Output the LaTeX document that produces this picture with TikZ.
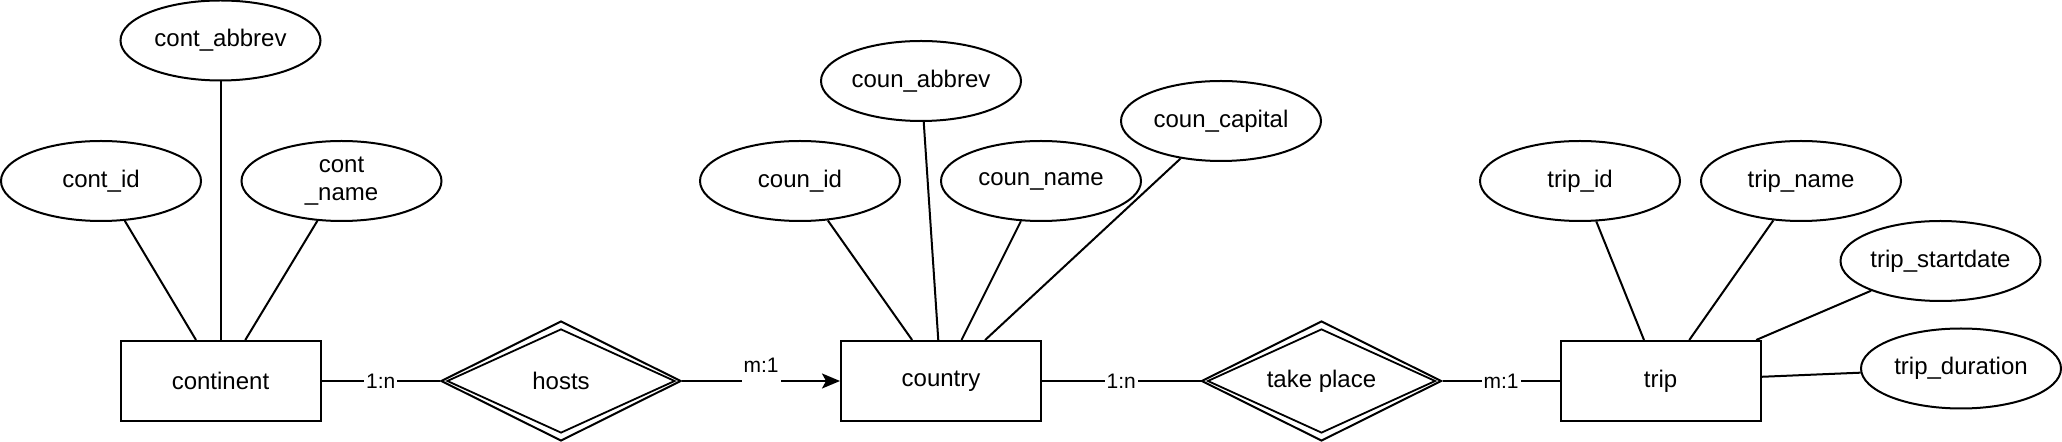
\documentclass[tikz,border=0pt]{standalone}
\usepackage{fontspec}
\setmainfont{Liberation Sans}
\usetikzlibrary{shapes.geometric,arrows.meta}
\begin{document}
\begin{tikzpicture}[x=0.5pt,y=-0.5pt,
  every node/.style={font=\fontsize{12}{14}\selectfont},
  attr/.style={draw, ellipse, line width=1pt, minimum width=100pt, minimum height=40pt, inner sep=0pt, align=center},
  entity/.style={draw, rectangle, line width=1pt, minimum width=100pt, minimum height=40pt, inner sep=0pt},
  rel/.style={draw, diamond, line width=1pt, minimum width=120pt, minimum height=60pt, inner sep=0pt},
  relin/.style={draw, diamond, line width=0.9pt, minimum width=114pt, minimum height=52pt, inner sep=0pt},
  conn/.style={line width=1pt},
  card/.style={fill=white, inner sep=1pt, font=\fontsize{10.5}{12}\selectfont},
]
\useasboundingbox (0,0) rectangle (2062,442);

% entities
\node[entity] (continent) at (220.5,381) {continent};
\node[entity] (country) at (941,381) {country};
\node[entity] (trip) at (1660.5,381) {trip};

% relationships
\node[rel] (hosts) at (561,381) {};
\node[relin] (hostsin) at (561,381) {};
\node (hostslbl) at (561,381) {hosts};
\node[rel] (takeplace) at (1321.5,381) {};
\node[relin] (takeplacein) at (1321.5,381) {};
\node (takeplacelbl) at (1321.5,381) {take place};

% attributes
\node[attr] (contabbrev) at (220.5,40.5) {cont\_abbrev};
\node[attr] (contid) at (101,181) {cont\_id};
\node[attr] (contname) at (341.5,181) {cont\\\_name};

\node[attr] (counabbrev) at (921,81) {coun\_abbrev};
\node[attr] (counid) at (800,181) {coun\_id};
\node[attr] (counname) at (1041,181) {coun\_name};
\node[attr] (councapital) at (1221,121) {coun\_capital};

\node[attr] (tripid) at (1580,181) {trip\_id};
\node[attr] (tripname) at (1801,181) {trip\_name};
\node[attr] (tripstart) at (1940.5,261) {trip\_startdate};
\node[attr] (tripdur) at (1961,368.5) {trip\_duration};

% attribute connectors
\draw[conn] (contid) -- (continent);
\draw[conn] (contabbrev) -- (continent);
\draw[conn] (contname) -- (continent);

\draw[conn] (counid) -- (country);
\draw[conn] (counabbrev) -- (country);
\draw[conn] (counname) -- (country);
\draw[conn] (councapital) -- (country);

\draw[conn] (tripid) -- (trip);
\draw[conn] (tripname) -- (trip);
\draw[conn] (tripstart) -- (trip);
\draw[conn] (tripdur) -- (trip);

% relationship connectors
\draw[conn] (continent) -- node[card] {1:n} (hosts);
\draw[conn, -{Stealth[length=9pt,width=7.5pt,inset=2pt]}] (hosts) -- node[card, anchor=base, yshift=4pt, text depth=5pt] {m:1} (country);
\draw[conn] (country) -- node[card] {1:n} (takeplace);
\draw[conn] (takeplace) -- node[card] {m:1} (trip);
\end{tikzpicture}
\end{document}
